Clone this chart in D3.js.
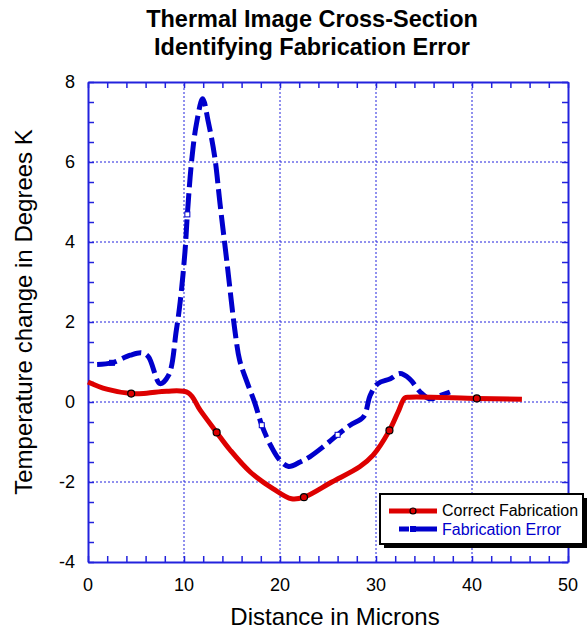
<!DOCTYPE html>
<html lang="en">
<head>
    <meta charset="UTF-8">
    <title>Thermal Image Cross-Section</title>
    <script src="https://d3js.org/d3.v7.min.js"></script>
    <style>
        body { margin: 0; background: #fff; }
        text { font-family: "Liberation Sans", Arial, sans-serif; }
    </style>
</head>
<body>
    <div id="chart"></div>

    <script>
        // Correct fabrication (red, solid)
        const correctX = [0, 1.95, 4.5, 6.1, 8.2, 10.45, 11.7, 13.4, 14.8, 16.9, 19.3, 21.2, 22.5, 25.4, 28.3, 29.7, 31.4, 32.3, 33.0, 33.5, 40.5, 45.2];
        const correctY = [0.5, 0.32, 0.21, 0.22, 0.27, 0.23, -0.21, -0.76, -1.2, -1.75, -2.17, -2.42, -2.38, -2.0, -1.62, -1.33, -0.71, -0.25, 0.1, 0.12, 0.09, 0.07];
        const correctMarkers = [2, 7, 12, 16, 20];

        // Fabrication error (blue, dashed)
        const errorX = [0.95, 2.5, 4.4, 5.6, 6.3, 7.5, 8.4, 9.2, 9.6, 10.1, 10.35, 10.8, 11.3, 11.95, 12.5, 13.2, 13.75, 14.45, 15.3, 15.8, 16.5, 17.4, 18.1, 19.1, 20.0, 20.9, 22.1, 23.1, 24.5, 26.0, 27.3, 28.7, 29.4, 30.2, 31.5, 32.5, 33.5, 34.6, 35.6, 36.8, 37.7];
        const errorY = [0.94, 0.98, 1.17, 1.23, 1.13, 0.46, 0.67, 1.79, 2.5, 3.75, 4.69, 6.04, 6.96, 7.58, 7.04, 6.13, 4.96, 3.54, 1.79, 1.04, 0.54, -0.04, -0.58, -1.12, -1.46, -1.61, -1.5, -1.37, -1.12, -0.82, -0.58, -0.37, 0.17, 0.46, 0.58, 0.71, 0.58, 0.25, 0.08, 0.17, 0.25];
        const errorMarkers = [1, 10, 22, 29];

        const xTicks = [0, 10, 20, 30, 40, 50];
        const yTicks = [-4, -2, 0, 2, 4, 6, 8];
        const titleLines = ["Thermal Image Cross-Section", "Identifying Fabrication Error"];
        const seriesNames = ["Correct Fabrication", "Fabrication Error"];

        const width = 587, height = 631;
        const margin = { top: 82, right: 19, bottom: 69, left: 88 };
        const blue = "#0000cc", red = "#dd0000", axisBlue = "#2222dd";

        const svg = d3.select("#chart").append("svg")
            .attr("width", width)
            .attr("height", height);

        const x = d3.scaleLinear().domain([0, 50]).range([margin.left, width - margin.right]);
        const y = d3.scaleLinear().domain([-4, 8]).range([height - margin.bottom, margin.top]);

        // title
        svg.append("g").selectAll("text")
            .data(titleLines)
            .join("text")
            .attr("x", 312)
            .attr("y", (d, i) => 27 + i * 28)
            .attr("text-anchor", "middle")
            .attr("font-size", 23.5)
            .attr("font-weight", "bold")
            .text(d => d);

        // grid
        const grid = svg.append("g")
            .attr("stroke", axisBlue)
            .attr("stroke-width", 1)
            .attr("stroke-dasharray", "2,2");
        grid.selectAll(".gx").data(xTicks.slice(1, -1)).join("line")
            .attr("x1", d => x(d)).attr("x2", d => x(d))
            .attr("y1", y(-4)).attr("y2", y(8));
        grid.selectAll(".gy").data(yTicks.slice(1, -1)).join("line")
            .attr("y1", d => y(d)).attr("y2", d => y(d))
            .attr("x1", x(0)).attr("x2", x(50));

        // axes, ticks inside, on all four sides
        const minorX = d3.range(0, 50.01, 2);
        const minorY = d3.range(-4, 8.01, 0.5);
        const tickLen = 6;
        const axisStyle = g => {
            g.select(".domain").attr("stroke", axisBlue).attr("stroke-width", 2);
            g.selectAll(".tick line").attr("stroke", axisBlue).attr("stroke-width", 1.5);
            g.selectAll("text").remove();
        };
        svg.append("g").attr("transform", `translate(0,${y(-4)})`)
            .call(d3.axisTop(x).tickValues(minorX).tickSize(tickLen).tickSizeOuter(0)).call(axisStyle);
        svg.append("g").attr("transform", `translate(0,${y(8)})`)
            .call(d3.axisBottom(x).tickValues(minorX).tickSize(tickLen).tickSizeOuter(0)).call(axisStyle);
        svg.append("g").attr("transform", `translate(${x(0)},0)`)
            .call(d3.axisRight(y).tickValues(minorY).tickSize(tickLen).tickSizeOuter(0)).call(axisStyle);
        svg.append("g").attr("transform", `translate(${x(50)},0)`)
            .call(d3.axisLeft(y).tickValues(minorY).tickSize(tickLen).tickSizeOuter(0)).call(axisStyle);

        // tick labels
        svg.append("g").selectAll("text").data(xTicks).join("text")
            .attr("x", d => x(d)).attr("y", y(-4) + 29)
            .attr("text-anchor", "middle").attr("font-size", 18)
            .text(d => d);
        svg.append("g").selectAll("text").data(yTicks).join("text")
            .attr("x", x(0) - 13).attr("y", d => y(d) + 6)
            .attr("text-anchor", "end").attr("font-size", 18)
            .text(d => d);

        // axis labels
        svg.append("text")
            .attr("x", 335).attr("y", 625)
            .attr("text-anchor", "middle").attr("font-size", 24)
            .text("Distance in Microns");
        svg.append("text")
            .attr("transform", `translate(32,${(y(-4) + y(8)) / 2 - 10}) rotate(-90)`)
            .attr("text-anchor", "middle").attr("font-size", 24)
            .text("Temperature change in Degrees K");

        const line = d3.line().x(d => x(d[0])).y(d => y(d[1])).curve(d3.curveCatmullRom.alpha(0.5));
        const correctData = d3.zip(correctX, correctY);
        const errorData = d3.zip(errorX, errorY);

        // blue dashed series
        svg.append("path")
            .datum(errorData)
            .attr("d", line)
            .attr("fill", "none")
            .attr("stroke", blue)
            .attr("stroke-width", 5)
            .attr("stroke-dasharray", "20,6");
        svg.append("g").selectAll("rect")
            .data(errorMarkers.map(i => errorData[i]))
            .join("rect")
            .attr("x", d => x(d[0]) - 2.5).attr("y", d => y(d[1]) - 2.5)
            .attr("width", 5).attr("height", 5)
            .attr("fill", (d, i) => i === 0 ? blue : "#fff")
            .attr("stroke", blue).attr("stroke-width", 1);

        // red solid series
        svg.append("path")
            .datum(correctData)
            .attr("d", line)
            .attr("fill", "none")
            .attr("stroke", red)
            .attr("stroke-width", 5)
            .attr("stroke-linejoin", "round");
        svg.append("g").selectAll("circle")
            .data(correctMarkers.map(i => correctData[i]))
            .join("circle")
            .attr("cx", d => x(d[0])).attr("cy", d => y(d[1]))
            .attr("r", 3.5)
            .attr("fill", red).attr("stroke", "#000").attr("stroke-width", 1.2);

        // legend
        const lg = svg.append("g").attr("transform", "translate(380,494)");
        lg.append("rect").attr("x", 4).attr("y", 4).attr("width", 203).attr("height", 50).attr("fill", "#000");
        lg.append("rect").attr("width", 203).attr("height", 50)
            .attr("fill", "#fff").attr("stroke", "#000").attr("stroke-width", 2);
        lg.append("line").attr("x1", 9).attr("x2", 57).attr("y1", 17).attr("y2", 17)
            .attr("stroke", red).attr("stroke-width", 5);
        lg.append("circle").attr("cx", 33).attr("cy", 17).attr("r", 3)
            .attr("fill", red).attr("stroke", "#000").attr("stroke-width", 1.2);
        lg.append("line").attr("x1", 19).attr("x2", 57).attr("y1", 35).attr("y2", 35)
            .attr("stroke", blue).attr("stroke-width", 5).attr("stroke-dasharray", "10,3,30");
        lg.append("rect").attr("x", 30).attr("y", 32).attr("width", 6).attr("height", 6).attr("fill", blue);
        lg.selectAll(".lt").data(seriesNames).join("text")
            .attr("x", 62).attr("y", (d, i) => 22 + i * 19)
            .attr("font-size", 16)
            .attr("fill", (d, i) => i === 0 ? "#000" : blue)
            .text(d => d);
    </script>
</body>
</html>
